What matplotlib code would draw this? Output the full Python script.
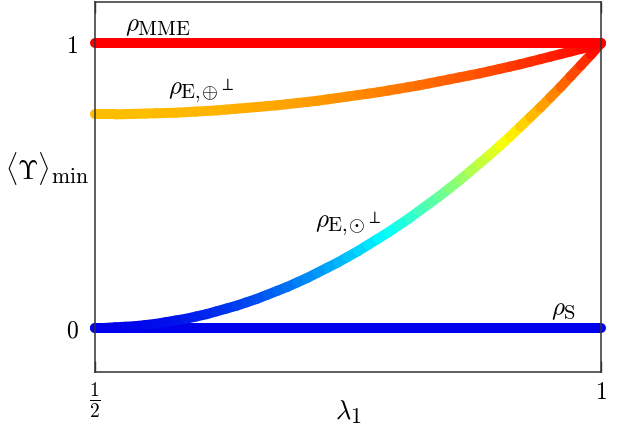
import matplotlib
matplotlib.use("Agg")
import matplotlib.pyplot as plt
import matplotlib._mathtext as mathtext_internal
import numpy as np
from matplotlib.collections import LineCollection
from matplotlib.colors import LinearSegmentedColormap

plt.rcParams["mathtext.fontset"] = "cm"
# LaTeX-like, slightly larger sub/superscripts than mathtext's default 0.7
mathtext_internal.SHRINK_FACTOR = 0.82

# values (lambda_1 from 1/2 to 1)
lam = [0.50, 0.51, 0.52, 0.53, 0.54, 0.55, 0.56, 0.57, 0.58, 0.59,
       0.60, 0.61, 0.62, 0.63, 0.64, 0.65, 0.66, 0.67, 0.68, 0.69,
       0.70, 0.71, 0.72, 0.73, 0.74, 0.75, 0.76, 0.77, 0.78, 0.79,
       0.80, 0.81, 0.82, 0.83, 0.84, 0.85, 0.86, 0.87, 0.88, 0.89,
       0.90, 0.91, 0.92, 0.93, 0.94, 0.95, 0.96, 0.97, 0.98, 0.99, 1.00]
ups_mme = [1.0] * len(lam)
ups_s = [0.0] * len(lam)
ups_oplus = [0.750, 0.750, 0.750, 0.751, 0.752, 0.753, 0.754, 0.755, 0.756, 0.758,
             0.760, 0.762, 0.764, 0.767, 0.770, 0.773, 0.776, 0.779, 0.782, 0.786,
             0.790, 0.794, 0.798, 0.803, 0.808, 0.813, 0.818, 0.823, 0.828, 0.834,
             0.840, 0.846, 0.852, 0.859, 0.866, 0.873, 0.880, 0.887, 0.894, 0.902,
             0.910, 0.918, 0.926, 0.935, 0.944, 0.953, 0.962, 0.971, 0.980, 0.990,
             1.000]
ups_odot = [0.000, 0.000, 0.002, 0.004, 0.006, 0.010, 0.014, 0.020, 0.026, 0.032,
            0.040, 0.048, 0.058, 0.068, 0.078, 0.090, 0.102, 0.116, 0.130, 0.144,
            0.160, 0.176, 0.194, 0.212, 0.230, 0.250, 0.270, 0.292, 0.314, 0.336,
            0.360, 0.384, 0.410, 0.436, 0.462, 0.490, 0.518, 0.548, 0.578, 0.608,
            0.640, 0.672, 0.706, 0.740, 0.774, 0.810, 0.846, 0.884, 0.922, 0.960,
            1.000]

curve_labels = [r"$\rho_{\rm MME}$", r"$\rho_{\mathrm{E},\!{\oplus}^{\perp}}$",
                r"$\rho_{\mathrm{E},\!{\odot}^{\perp}}$", r"$\rho_{\rm S}$"]

# blue -> cyan -> yellow -> red
cmap = LinearSegmentedColormap("bcyr", {
    "red":   [(0, 0, 0), (1/3, 0, 0), (2/3, 1, 1), (1, 1, 1)],
    "green": [(0, 0, 0), (1/3, 1, 1), (2/3, 1, 1), (1, 0, 0)],
    "blue":  [(0, 0.92, 0.92), (1/3, 1, 1), (2/3, 0, 0), (1, 0, 0)],
})

fig = plt.figure(figsize=(6.23, 4.41), dpi=100)
ax = fig.add_axes([0.1525, 0.1565, 0.8122, 0.839])

for ys in [ups_s, ups_odot, ups_oplus, ups_mme]:
    pts = np.column_stack([lam, ys]).reshape(-1, 1, 2)
    segs = np.concatenate([pts[:-1], pts[1:]], axis=1)
    mid = 0.5 * (np.array(ys[:-1]) + np.array(ys[1:]))
    lc = LineCollection(segs, colors=cmap(mid), linewidths=7.2,
                        capstyle="round", joinstyle="round", clip_on=False, zorder=2)
    ax.add_collection(lc)

ax.set_xlim(0.5, 1.0)
ax.set_ylim(-0.155, 1.145)
ax.set_xticks([0.5, 1.0])
ax.set_xticklabels([r"$\frac{1}{2}$", r"$1$"], fontsize=17)
ax.set_yticks([0, 1])
ax.set_yticklabels([r"$0$", r"$1$"], fontsize=17)
ax.tick_params(direction="in", length=8, width=1, color="#333333",
               right=True, top=True)
ax.tick_params(axis="y", pad=12)
ax.tick_params(axis="x", pad=6)
for s in ax.spines.values():
    s.set_color("#333333")
    s.set_linewidth(1.1)
    s.set_zorder(3)

ax.set_xlabel(r"$\lambda_1$", fontsize=19)
ax.xaxis.set_label_coords(0.5, -0.108)
ax.xaxis.label.set_va("center")
ax.set_ylabel(r"$\langle\Upsilon\rangle_{\min}$", fontsize=19, rotation=0)
ax.yaxis.set_label_coords(-0.095, 0.55)
ax.yaxis.label.set_va("center")
ax.yaxis.label.set_ha("center")

label_pos = [(0.53, 1.042), (0.572, 0.818), (0.717, 0.351), (0.951, 0.046)]
for txt, (x, y) in zip(curve_labels, label_pos):
    ax.text(x, y, txt, fontsize=18, ha="left", va="baseline")

fig.savefig("out.png", dpi=100)
